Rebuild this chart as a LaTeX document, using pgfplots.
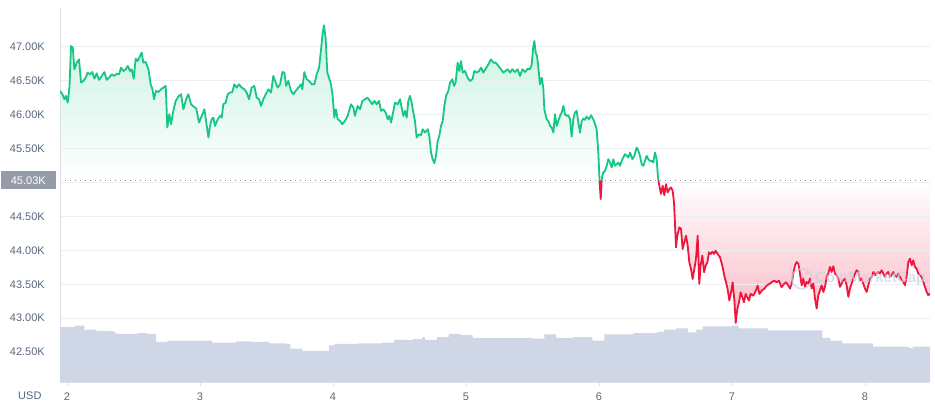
\documentclass[border=0pt]{standalone}
\usepackage{fontspec}
\setmainfont{Liberation Sans}
\usepackage{pgfplots}
\usepackage{pgfplotstable}
\pgfplotsset{compat=1.18}
\usepgfplotslibrary{fillbetween}
\definecolor{cmcgreen}{RGB}{22,199,132}
\definecolor{cmcred}{RGB}{240,22,62}
\definecolor{tickcol}{RGB}{88,102,126}
\definecolor{gridcol}{RGB}{236,239,243}
\definecolor{axcol}{RGB}{222,226,232}
\definecolor{volcol}{RGB}{207,214,229}
\definecolor{boxcol}{RGB}{150,155,168}
\definecolor{dotcol}{RGB}{140,146,160}
\definecolor{wmcol}{RGB}{200,210,226}

\pgfplotsset{
  layers/fillsbelowgrid/.define layer set={axis background,pre main,axis grid,axis ticks,axis lines,axis tick labels,main,axis descriptions,axis foreground}{
    grid style={/pgfplots/on layer=axis grid},
    tick style={/pgfplots/on layer=axis ticks},
    axis line style={/pgfplots/on layer=axis lines},
    label style={/pgfplots/on layer=axis descriptions},
    ticklabel style={/pgfplots/on layer=axis tick labels},
  },
}

\pgfplotstableread{
x y
1.947 46.348
1.965 46.299
1.980 46.225
1.992 46.275
2.005 46.176
2.018 46.397
2.030 47.010
2.043 46.985
2.055 46.667
2.073 46.765
2.090 46.814
2.105 46.471
2.123 46.495
2.140 46.544
2.155 46.618
2.173 46.593
2.190 46.627
2.206 46.529
2.223 46.608
2.241 46.510
2.261 46.569
2.281 46.627
2.298 46.510
2.316 46.544
2.336 46.593
2.356 46.569
2.373 46.603
2.391 46.593
2.406 46.691
2.424 46.642
2.441 46.667
2.456 46.716
2.474 46.642
2.486 46.667
2.501 46.529
2.516 46.824
2.531 46.789
2.549 46.863
2.561 46.912
2.574 46.765
2.591 46.775
2.612 46.667
2.629 46.446
2.642 46.373
2.654 46.225
2.669 46.348
2.687 46.333
2.707 46.373
2.724 46.397
2.742 46.422
2.754 45.809
2.769 46.005
2.782 45.858
2.799 46.054
2.817 46.201
2.837 46.265
2.857 46.299
2.875 46.078
2.895 46.225
2.912 46.299
2.932 46.152
2.952 46.118
2.972 46.088
2.992 45.882
3.013 45.980
3.033 46.078
3.063 45.662
3.075 45.833
3.088 45.931
3.100 45.956
3.113 45.833
3.133 45.931
3.150 45.980
3.163 45.956
3.175 46.152
3.193 46.176
3.208 46.299
3.226 46.324
3.243 46.333
3.258 46.446
3.276 46.397
3.293 46.446
3.313 46.397
3.333 46.373
3.351 46.324
3.368 46.225
3.388 46.397
3.408 46.422
3.426 46.250
3.444 46.225
3.459 46.127
3.476 46.225
3.494 46.299
3.514 46.373
3.534 46.324
3.551 46.569
3.569 46.471
3.584 46.397
3.602 46.446
3.619 46.627
3.634 46.618
3.647 46.422
3.664 46.495
3.684 46.348
3.702 46.299
3.719 46.348
3.739 46.397
3.759 46.446
3.769 46.373
3.784 46.627
3.802 46.520
3.820 46.495
3.840 46.446
3.860 46.446
3.877 46.593
3.895 46.691
3.910 46.961
3.922 47.206
3.932 47.314
3.945 47.108
3.957 46.618
3.970 46.544
3.985 46.446
3.997 46.275
4.010 45.956
4.022 46.078
4.035 45.931
4.053 45.907
4.070 45.858
4.090 45.907
4.110 45.980
4.135 46.152
4.153 46.103
4.165 45.980
4.185 46.127
4.203 46.078
4.221 46.201
4.241 46.225
4.258 46.250
4.278 46.201
4.296 46.152
4.311 46.201
4.328 46.152
4.346 46.201
4.361 46.054
4.378 46.078
4.396 46.029
4.411 45.931
4.424 45.980
4.436 45.882
4.454 46.054
4.466 46.176
4.486 46.152
4.504 46.225
4.516 46.103
4.529 45.980
4.541 46.054
4.554 45.956
4.566 46.201
4.579 46.275
4.591 46.176
4.604 46.029
4.616 45.907
4.629 45.662
4.647 45.711
4.662 45.696
4.674 45.784
4.692 45.735
4.712 45.784
4.724 45.686
4.737 45.441
4.749 45.343
4.762 45.284
4.774 45.392
4.787 45.613
4.799 45.686
4.812 45.833
4.825 45.907
4.837 46.127
4.850 46.275
4.867 46.348
4.880 46.471
4.897 46.520
4.910 46.422
4.922 46.471
4.937 46.765
4.950 46.642
4.962 46.789
4.975 46.618
4.992 46.642
5.012 46.544
5.030 46.495
5.048 46.520
5.063 46.642
5.080 46.618
5.098 46.642
5.113 46.691
5.130 46.618
5.148 46.676
5.168 46.740
5.188 46.814
5.205 46.765
5.223 46.765
5.243 46.716
5.263 46.667
5.281 46.618
5.313 46.667
5.331 46.618
5.348 46.667
5.368 46.627
5.388 46.667
5.406 46.569
5.424 46.667
5.444 46.627
5.464 46.676
5.481 46.667
5.494 46.740
5.506 47.010
5.514 47.083
5.524 46.912
5.534 46.863
5.544 46.691
5.556 46.446
5.569 46.544
5.581 46.397
5.589 46.078
5.606 45.931
5.619 45.907
5.632 45.833
5.644 45.809
5.657 45.735
5.669 46.005
5.682 45.833
5.694 45.907
5.707 45.980
5.719 46.029
5.732 46.127
5.744 46.005
5.757 45.980
5.769 45.990
5.782 45.931
5.794 45.676
5.807 45.931
5.819 46.029
5.832 46.054
5.845 45.882
5.857 45.735
5.870 45.907
5.882 45.941
5.895 45.922
5.907 45.971
5.925 45.931
5.940 45.990
5.957 45.931
5.970 45.858
5.982 45.784
5.995 45.441
6.004 45.030
}\greenA

\pgfplotstableread{
x y
6.004 45.030
6.008 44.900
6.013 44.755
6.017 44.900
6.020 45.030
}\redA

\pgfplotstableread{
x y
6.020 45.030
6.025 45.100
6.032 45.147
6.045 45.172
6.058 45.245
6.070 45.343
6.083 45.294
6.095 45.221
6.108 45.343
6.120 45.245
6.133 45.270
6.145 45.294
6.158 45.245
6.170 45.318
6.183 45.368
6.195 45.417
6.208 45.392
6.220 45.368
6.233 45.441
6.251 45.343
6.266 45.392
6.283 45.515
6.296 45.466
6.308 45.392
6.321 45.269
6.333 45.245
6.346 45.318
6.358 45.392
6.371 45.343
6.383 45.318
6.396 45.318
6.408 45.294
6.421 45.441
6.433 45.343
6.443 45.100
6.446 45.030
}\greenB

\pgfplotstableread{
x y
6.446 45.030
6.459 44.902
6.466 44.830
6.479 44.951
6.491 44.814
6.504 44.975
6.516 44.853
6.529 44.902
6.541 44.926
6.554 44.877
6.564 44.706
6.571 44.412
6.579 44.044
6.589 44.216
6.604 44.338
6.617 44.314
6.629 44.020
6.642 44.118
6.654 44.216
6.667 44.069
6.679 43.824
6.692 43.725
6.704 43.578
6.717 43.725
6.729 43.873
6.742 44.216
6.754 43.505
6.764 43.775
6.777 43.922
6.790 43.676
6.802 43.775
6.815 43.824
6.827 43.971
6.840 43.946
6.852 43.980
6.865 43.946
6.877 43.995
6.892 43.946
6.910 43.897
6.927 43.775
6.942 43.627
6.955 43.529
6.967 43.431
6.980 43.260
6.993 43.382
7.005 43.529
7.018 43.260
7.028 42.931
7.040 43.137
7.053 43.235
7.065 43.382
7.078 43.309
7.090 43.235
7.103 43.358
7.115 43.309
7.128 43.260
7.140 43.358
7.160 43.333
7.180 43.407
7.193 43.480
7.206 43.358
7.223 43.407
7.241 43.431
7.261 43.480
7.281 43.505
7.298 43.529
7.316 43.554
7.336 43.529
7.353 43.554
7.373 43.456
7.391 43.505
7.406 43.529
7.424 43.480
7.436 43.436
7.449 43.510
7.461 43.657
7.474 43.780
7.486 43.828
7.499 43.804
7.511 43.657
7.524 43.485
7.536 43.583
7.549 43.461
7.561 43.534
7.574 43.510
7.586 43.583
7.599 43.436
7.612 43.510
7.624 43.289
7.637 43.142
7.649 43.338
7.662 43.412
7.674 43.485
7.687 43.387
7.699 43.461
7.712 43.608
7.724 43.657
7.737 43.755
7.749 43.681
7.762 43.765
7.774 43.657
7.787 43.632
7.799 43.583
7.812 43.461
7.824 43.510
7.837 43.559
7.849 43.583
7.862 43.485
7.875 43.314
7.887 43.436
7.900 43.510
7.912 43.583
7.925 43.657
7.937 43.706
7.950 43.681
7.962 43.559
7.975 43.583
7.987 43.510
8.000 43.436
8.013 43.387
8.025 43.485
8.038 43.583
8.050 43.608
8.063 43.681
8.075 43.632
8.088 43.667
8.100 43.681
8.113 43.657
8.125 43.706
8.138 43.657
8.150 43.608
8.163 43.657
8.175 43.681
8.188 43.608
8.200 43.632
8.213 43.681
8.225 43.632
8.238 43.608
8.250 43.657
8.263 43.608
8.276 43.559
8.288 43.534
8.301 43.485
8.313 43.608
8.326 43.828
8.338 43.877
8.351 43.779
8.363 43.853
8.376 43.755
8.388 43.730
8.401 43.657
8.414 43.632
8.426 43.608
8.439 43.534
8.451 43.461
8.464 43.387
8.476 43.338
8.489 43.363
}\redB

\pgfplotstableread{
x y
1.946 42.87
2.040 42.87
2.060 42.89
2.130 42.83
2.220 42.81
2.350 42.79
2.370 42.77
2.530 42.78
2.600 42.77
2.670 42.65
2.755 42.67
3.020 42.67
3.090 42.64
3.270 42.66
3.380 42.65
3.520 42.63
3.650 42.62
3.680 42.55
3.770 42.52
3.970 42.60
4.010 42.62
4.190 42.63
4.370 42.64
4.460 42.68
4.600 42.69
4.670 42.72
4.690 42.68
4.780 42.72
4.870 42.77
4.960 42.75
5.050 42.71
5.500 42.70
5.590 42.76
5.680 42.71
5.810 42.72
5.950 42.67
6.040 42.76
6.260 42.78
6.440 42.80
6.490 42.83
6.580 42.85
6.670 42.79
6.730 42.83
6.780 42.88
7.000 42.89
7.050 42.85
7.270 42.82
7.680 42.71
7.740 42.67
7.830 42.63
8.060 42.58
8.330 42.56
8.360 42.58
8.510 42.58
}\vol

\begin{document}
\begin{tikzpicture}
\begin{axis}[
  set layers=fillsbelowgrid,
  scale only axis,
  width=870pt, height=374pt,
  xmin=1.947, xmax=8.489,
  ymin=42.06, ymax=47.57,
  axis x line*=bottom, axis y line*=left,
  axis line style={draw=axcol, line width=0.8pt},
  xtick={2,3,4,5,6,7,8},
  xticklabels={2,3,4,5,6,7,8},
  ytick={42.5,43,43.5,44,44.5,45.5,46,46.5,47},
  yticklabels={42.50K,43.00K,43.50K,44.00K,44.50K,45.50K,46.00K,46.50K,47.00K},
  minor ytick={45},
  ymajorgrids, yminorgrids,
  major grid style={draw=gridcol, line width=0.8pt},
  minor grid style={draw=gridcol, line width=0.8pt},
  tick label style={font=\fontsize{11}{13}\selectfont, text=tickcol},
  yticklabel style={inner sep=0pt, xshift=-11pt},
  xticklabel style={inner sep=0pt, yshift=-7pt},
  ytick style={draw=none},
  minor tick length=0pt,
  xtick style={draw=axcol, line width=0.8pt},
  tick align=outside,
  major tick length=4pt,
  extra y ticks={45.03},
  extra y tick labels={45.03K},
  extra y tick style={
    grid=major,
    major grid style={draw=dotcol, line width=0.9pt, dash pattern=on 0.9pt off 4.1pt},
    yticklabel style={fill=boxcol, text=white, minimum width=55pt, minimum height=18pt, inner sep=0pt, xshift=11pt}
  },
  clip=true,
]
% baseline paths for the fills
\addplot[name path=baseA, draw=none, forget plot] coordinates {(1.947,45.03) (6.004,45.03)};
\addplot[name path=baseB, draw=none, forget plot] coordinates {(6.020,45.03) (6.446,45.03)};
\addplot[name path=baseR, draw=none, forget plot] coordinates {(6.446,45.03) (8.489,45.03)};
% volume area (main layer, above the grid)
\addplot[const plot, fill=volcol, draw=none, forget plot] table[x=x,y=y] {\vol} \closedcycle;
% price lines
\addplot[name path=gA, draw=cmcgreen, line width=1.8pt, line join=round] table[x=x,y=y] {\greenA};
\addplot[name path=rA, draw=cmcred, line width=1.8pt, line join=round] table[x=x,y=y] {\redA};
\addplot[name path=gB, draw=cmcgreen, line width=1.8pt, line join=round] table[x=x,y=y] {\greenB};
\addplot[name path=rB, draw=cmcred, line width=1.8pt, line join=round] table[x=x,y=y] {\redB};
% gradient fills (opaque, drawn below the grid)
\addplot[fill=white, top color=cmcgreen!24!white, bottom color=white, draw=none]
  fill between[of=gA and baseA];
\addplot[fill=white, top color=cmcgreen!6!white, bottom color=white, draw=none]
  fill between[of=gB and baseB];
\addplot[fill=white, top color=white, bottom color=cmcred!30!white, draw=none]
  fill between[of=rB and baseR];
% watermark
\node[circle, draw=wmcol, line width=1.6pt, minimum size=20pt, opacity=0.7] at (axis cs:7.525,43.58) {};
\node[anchor=west, text=wmcol, opacity=0.7, font=\fontsize{15}{17}\selectfont\bfseries] at (axis cs:7.6,43.58) {CoinMarketCap};
\end{axis}
\node[anchor=base east, text=tickcol, font=\fontsize{11}{13}\selectfont] at (current axis.south west) [xshift=-15pt, yshift=-17pt] {USD};
\path (current axis.south west) ++(-60pt,-24pt) rectangle ([shift={(5pt,8pt)}]current axis.north east);
\end{tikzpicture}
\end{document}
